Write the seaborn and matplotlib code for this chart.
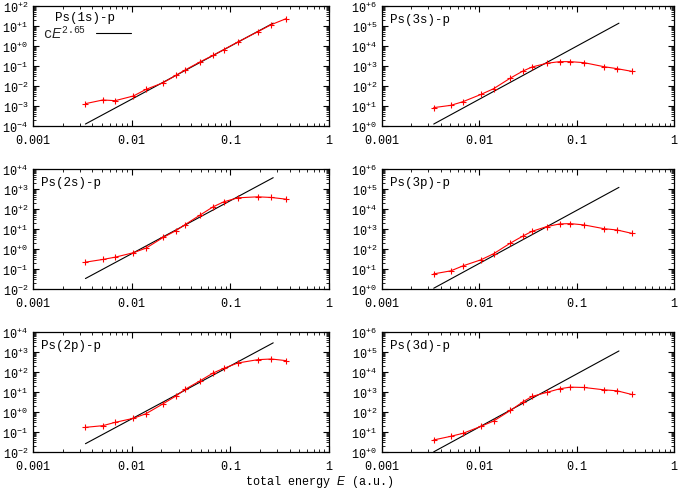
import numpy as np
import pandas as pd
import matplotlib
matplotlib.use("Agg")
import matplotlib.pyplot as plt
import matplotlib.ticker as mticker
import seaborn as sns

# ---- data ----
energy = [0.0034, 0.0051, 0.0068, 0.0104, 0.0140, 0.0209, 0.0281, 0.0348,
          0.049, 0.0668, 0.0857, 0.119, 0.190, 0.260, 0.368]

ps1s = [1.31e-3, 2.0e-3, 1.85e-3, 3.16e-3, 6.8e-3, 1.47e-2, 3.4e-2, 6.3e-2,
        0.158, 0.341, 0.656, 1.58, 5.2, 11.7, 23.3]
ps3s = [8.3, 10.8, 16.5, 38, 73, 251, 562, 891, 1360, 1650, 1650, 1470, 927, 736, 541]
ps2s = [0.22, 0.30, 0.39, 0.65, 1.11, 3.8, 8.3, 16.6, 48.7, 128, 228, 362, 407, 377, 310]
ps3p = [5.7, 8.1, 14.4, 28.9, 57.8, 199, 447, 766, 1310, 1790, 1860, 1600, 1040, 893, 608]
ps2p = [0.171, 0.207, 0.304, 0.482, 0.826, 2.61, 6.3, 13.6, 35.5, 89, 152, 282, 414, 447, 369]
ps3d = [4.0, 6.1, 8.6, 19.2, 35.3, 120, 325, 599, 948, 1443, 1750, 1683, 1288, 1148, 753]

labels = ["Ps(1s)-p", "Ps(3s)-p", "Ps(2s)-p", "Ps(3p)-p", "Ps(2p)-p", "Ps(3d)-p"]
series = [ps1s, ps3s, ps2s, ps3p, ps2p, ps3d]
fit_c = [437, 4.36e6, 1.16e5, 3.8e6, 9.04e4, 3.55e6]
fit_exp = 2.65
fit_label = r"c$E^{2.65}$"
fit_range = [0.0034, 0.272]
ylims = [(1e-4, 1e2), (1e0, 1e6), (1e-2, 1e4), (1e0, 1e6), (1e-2, 1e4), (1e0, 1e6)]
xticks = [0.001, 0.01, 0.1, 1]
xlim = (0.001, 1)
xlabel = "total energy $E$ (a.u.)"

# ---- style ----
sns.set_theme(style="ticks")
plt.rcParams["font.family"] = ["Liberation Mono", "DejaVu Sans"]
plt.rcParams["font.size"] = 8.5
plt.rcParams["mathtext.fontset"] = "custom"
plt.rcParams["mathtext.rm"] = "Liberation Mono"
plt.rcParams["mathtext.it"] = "Liberation Sans:italic"
plt.rcParams["mathtext.default"] = "it"

fig = plt.figure(figsize=(6.85, 4.89), dpi=100)

col_left = [33 / 685, 382 / 685]
col_w = [296 / 685, 292 / 685]
row_bottom = [1 - 127 / 489, 1 - 290 / 489, 1 - 453 / 489]
row_h = 120 / 489

yfmt = mticker.FuncFormatter(lambda v, p: r"$\mathrm{10}^{%+d}$" % int(round(np.log10(v))))
xfmt = mticker.FuncFormatter(lambda v, p: f"{v:g}")

for i, (lab, ys) in enumerate(zip(labels, series)):
    r, c = divmod(i, 2)
    ax = fig.add_axes([col_left[c], row_bottom[r], col_w[c], row_h])
    ax.set_xscale("log")
    ax.set_yscale("log")

    fx = np.array(fit_range)
    fy = fit_c[i] * fx ** fit_exp
    df_fit = pd.DataFrame({"E": fx, "sigma": fy})
    sns.lineplot(data=df_fit, x="E", y="sigma", ax=ax, color="black",
                 linewidth=0.8, legend=False)
    df = pd.DataFrame({"E": energy, "sigma": ys})
    sns.lineplot(data=df, x="E", y="sigma", ax=ax, color="#ff0000", linewidth=0.8,
                 marker="+", markersize=3.8, markeredgewidth=0.8,
                 markeredgecolor="#ff0000", legend=False)

    ax.set_xlim(*xlim)
    ax.set_ylim(*ylims[i])
    ax.set_xlabel("")
    ax.set_ylabel("")
    ax.xaxis.set_major_locator(mticker.FixedLocator(xticks))
    ax.xaxis.set_major_formatter(xfmt)
    ax.xaxis.set_minor_locator(mticker.LogLocator(base=10, subs=np.arange(2, 10), numticks=20))
    ax.xaxis.set_minor_formatter(mticker.NullFormatter())
    lo, hi = np.log10(ylims[i])
    ax.yaxis.set_major_locator(mticker.FixedLocator(10.0 ** np.arange(lo, hi + 1)))
    ax.yaxis.set_major_formatter(yfmt)
    ax.yaxis.set_minor_locator(mticker.LogLocator(base=10, subs=np.arange(2, 10), numticks=20))
    ax.yaxis.set_minor_formatter(mticker.NullFormatter())
    ax.tick_params(which="both", direction="in", top=True, right=True, color="black",
                   labelcolor="black", labelsize=8.5)
    ax.tick_params(axis="x", which="major", pad=5.5)
    ax.tick_params(axis="y", which="major", pad=3.5)
    ax.tick_params(which="major", length=4, width=0.8)
    ax.tick_params(which="minor", length=2, width=0.6)
    for s in ax.spines.values():
        s.set_linewidth(0.9)
        s.set_color("black")

    if i == 0:
        h = ax.get_lines()[0]
        ax.legend([h], [fit_label], loc="upper left", bbox_to_anchor=(0.035, 0.845),
                  frameon=False, markerfirst=False, handlelength=2.5,
                  borderaxespad=0.0, borderpad=0.0, handletextpad=0.7,
                  fontsize=10)
        ax.text(0.176, 0.905, lab, transform=ax.transAxes, ha="center", va="center",
                fontsize=9, color="black")
    else:
        ax.text(0.027, 0.89, lab, transform=ax.transAxes, ha="left", va="center",
                fontsize=9, color="black")

fig.text(0.466, 0.0143, xlabel, ha="center", va="center",
         fontsize=8.5, color="black")

fig.savefig("out.png", dpi=100)
